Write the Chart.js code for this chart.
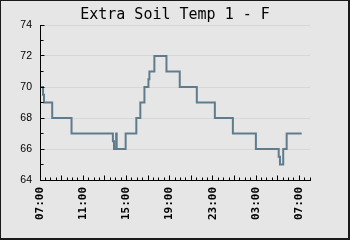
<!DOCTYPE html>
<html><head><meta charset="utf-8">
<script src="https://cdn.jsdelivr.net/npm/chart.js@4/dist/chart.umd.min.js"></script>
<style>html,body{margin:0;padding:0;background:#e6e6e6;overflow:hidden}</style>
</head><body>
<canvas id="c" width="350" height="240" style="display:block;width:350px;height:240px"></canvas>
<script>
// hours since 07:00 (start of window) and soil temperature (F)
const hours = [0.1, 0.28, 0.37, 1.13, 2.92, 6.75, 6.85, 7.05, 7.1, 7.93, 8.92, 9.29, 9.67, 10.04, 10.13, 10.59, 11.71, 12.94, 14.52, 16.19, 17.86, 19.99, 22.1, 22.22, 22.52, 22.84, 24.23];
const temps = [70, 69.5, 69, 68, 67, 66.5, 66, 67, 66, 67, 68, 69, 70, 70.5, 71, 72, 71, 70, 69, 68, 67, 66, 65.5, 65, 66, 67, 67];
const tickHours = [0, 4, 8, 12, 16, 20, 24];
const tickLabels = ['07:00', '11:00', '15:00', '19:00', '23:00', '03:00', '07:00'];
const yMin = 64, yMax = 74;

const bgColor = '#e6e6e6';
const gridColor = '#d7d7d7';
const lineColor = '#5f7c8d';

const framePlugin = {
  id: 'frame',
  beforeDraw(chart) {
    const c = chart.ctx;
    c.save(); c.fillStyle = bgColor; c.fillRect(0, 0, chart.width, chart.height); c.restore();
  },
  afterDraw(chart) {
    const c = chart.ctx, xs = chart.scales.x, ys = chart.scales.y, a = chart.chartArea;
    c.save();
    c.strokeStyle = '#000'; c.lineWidth = 1;
    const al = p => Math.round(p - 0.5) + 0.5;
    const lx = al(a.left), by = al(a.bottom);
    c.beginPath();
    for (let v = yMin; v <= yMax; v += 1) {
      const y = al(ys.getPixelForValue(v));
      const len = (v % 2 === 0) ? 4 : 3;
      c.moveTo(lx, y); c.lineTo(lx + len, y);
    }
    for (let h = 0; h <= xs.max + 1e-9; h += 0.5) {
      const x = al(xs.getPixelForValue(h));
      const len = (Math.abs(h % 2) < 1e-9) ? 5 : 3;
      c.moveTo(x, by); c.lineTo(x, by - len);
    }
    c.stroke();
    c.fillStyle = '#1a1a1a';
    c.fillRect(0, 0, chart.width, 1);
    c.fillRect(0, 0, 1, chart.height);
    c.fillRect(chart.width - 2, 0, 2, chart.height);
    c.fillRect(0, chart.height - 2, chart.width, 2);
    c.restore();
  }
};

new Chart(document.getElementById('c'), {
  type: 'line',
  data: {
    datasets: [{
      data: hours.map((h, i) => ({ x: h, y: temps[i] })),
      stepped: 'before',
      borderColor: lineColor,
      borderWidth: 2,
      pointRadius: 0,
      fill: false,
      borderJoinStyle: 'miter',
      borderCapStyle: 'butt'
    }]
  },
  options: {
    responsive: false,
    animation: false,
    devicePixelRatio: 1,
    layout: { padding: 0 },
    plugins: {
      legend: { display: false },
      tooltip: { enabled: false },
      title: {
        display: true,
        text: 'Extra Soil Temp 1 - F',
        color: '#000',
        font: { family: 'DejaVu Sans Mono', size: 15, weight: 'normal', lineHeight: 1.2 },
        padding: { top: 6, bottom: 1 }
      }
    },
    scales: {
      x: {
        type: 'linear',
        min: 0, max: 25,
        afterBuildTicks: s => { s.ticks = tickHours.map(v => ({ value: v })); },
        afterFit: s => { s.height = 60; },
        grid: { display: false, drawTicks: false },
        border: { display: true, color: '#000', width: 1 },
        ticks: {
          autoSkip: false, minRotation: 90, maxRotation: 90, padding: 7,
          color: '#000',
          font: { family: 'DejaVu Sans Mono', size: 11, weight: 'bold' },
          callback: v => tickLabels[tickHours.indexOf(v)]
        }
      },
      y: {
        min: yMin, max: yMax,
        afterFit: s => { s.width = 40; },
        grid: {
          drawTicks: false,
          color: c => (c.tick && c.tick.value === yMin) ? 'rgba(0,0,0,0)' : gridColor
        },
        border: { display: true, color: '#000', width: 1 },
        ticks: {
          stepSize: 2, padding: 8, color: '#000',
          font: { family: 'Liberation Sans', size: 10.5 }
        }
      },
      yRight: {
        position: 'right',
        min: yMin, max: yMax,
        afterFit: s => { s.width = 40; },
        grid: { display: false, drawTicks: false },
        border: { display: false },
        ticks: { display: false }
      }
    }
  },
  plugins: [framePlugin]
});
</script>
</body></html>
